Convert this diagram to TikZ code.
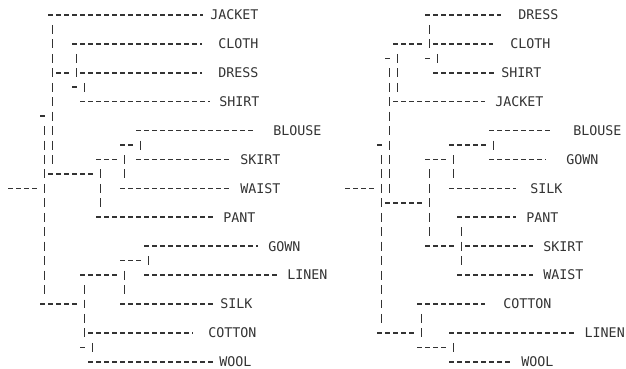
\documentclass[tikz,border=0pt]{standalone}
\usepackage{fontspec}
\setmonofont{DejaVu Sans Mono}
\usetikzlibrary{calc}
\definecolor{plotink}{HTML}{333333}
\tikzset{
  dendh/.style={draw=plotink, line width=1.2pt, dash pattern=on 3.9pt off 2.1pt},
  dendv/.style={draw=plotink, line width=1.2pt, dash pattern=on 6.72pt off 4.1175pt},
  leaflab/.style={anchor=west, inner sep=0pt, text=plotink, font=\fontsize{10}{12}\selectfont\ttfamily},
}

\begin{document}
\begin{tikzpicture}[x=6pt, y=-10.8375pt]
  \useasboundingbox (-1.375,-1.038) rectangle (76.875,24.498);
  \def\rx{42.125}

  % left tree: junctions at (column, row)
  \coordinate (lR) at (4,12);
  \coordinate (lA) at (5,7);
  \coordinate (lB) at (8,4);
  \coordinate (lC) at (9,5);
  \coordinate (lF) at (11,11);
  \coordinate (lG) at (14,10);
  \coordinate (lH) at (16,9);
  \coordinate (lK) at (9,20);
  \coordinate (lM) at (14,18);
  \coordinate (lN) at (17,17);
  \coordinate (lP) at (10,23);
  \coordinate (lS) at (-0.35,12);

  % leaves: name/row/end of dashes/label/text
  \foreach \n/\rw/\e/\lx/\t in {jacket/0/24.0/24.875/JACKET, cloth/2/23.875/25.875/CLOTH,
      dress/4/23.875/25.875/DRESS, shirt/6/24.875/26.0/SHIRT, blouse/8/30.5/32.75/BLOUSE,
      skirt/10/27.5/28.625/SKIRT, waist/12/27.5/28.625/WAIST, pant/14/25.25/26.5/PANT,
      gown/16/30.875/32.125/GOWN, linen/18/33.375/34.5/LINEN, silk/20/25.25/26.125/SILK,
      cotton/22/22.75/24.625/COTTON, wool/24/25.25/26.0/WOOL}{
    \coordinate (le\n) at (\e,\rw);
    \node[leaflab] (lt\n) at (\lx,\rw) {\t};
  }

  \draw[dendh] (lS) -- ($(lR)+(-0.65,0)$);
  \foreach \j/\a/\b in {lR/lA/lK, lA/lejacket/lF, lB/lecloth/lC, lC/ledress/leshirt,
      lF/lG/lepant, lG/lH/lewaist, lH/leblouse/leskirt, lK/lM/lP, lM/lN/lesilk,
      lN/legown/lelinen, lP/lecotton/lewool}
    \draw[dendv] ($(\j |- \a)+(0.2,0.69)$) -- ($(\j |- \b)+(0.2,-0.69)$);
  \foreach \p/\c in {lR/lA, lR/lK, lA/lF, lB/lC, lF/lG, lG/lH, lK/lM, lK/lP, lM/lN}
    \draw[dendh] ($(\p |- \c)+(-0.35,0)$) -- ($(\c)+(-0.65,0)$);
  \draw[dendh] ($(lA |- lB)+(0.65,0)$) -- ($(lB)+(-0.65,0)$);
  \foreach \p/\c in {lA/jacket, lB/cloth, lC/dress, lC/shirt, lH/blouse, lH/skirt, lG/waist,
      lF/pant, lN/gown, lN/linen, lM/silk, lP/cotton, lP/wool}
    \draw[dendh] ($(\p |- le\c)+(-0.35,0)$) -- (le\c);

  % right tree
  \coordinate (rR) at (\rx+4,12);
  \coordinate (rA) at (\rx+5,9);
  \coordinate (rB) at (\rx+6,3);
  \coordinate (rC) at (\rx+10,2);
  \coordinate (rD) at (\rx+11,3);
  \coordinate (rF) at (\rx+10,13);
  \coordinate (rG) at (\rx+13,10);
  \coordinate (rH) at (\rx+18,9);
  \coordinate (rJ) at (\rx+14,16);
  \coordinate (rK) at (\rx+9,22);
  \coordinate (rL) at (\rx+13,23);
  \coordinate (rS) at (\rx-0.35,12);

  \foreach \n/\rw/\e/\lx/\t in {dress/0/19.125/21.25/DRESS, cloth/2/18.125/20.25/CLOTH,
      shirt/4/18.375/19.125/SHIRT, jacket/6/17.125/18.375/JACKET, blouse/8/25.625/28.125/BLOUSE,
      gown/10/24.75/27.25/GOWN, silk/12/21.0/22.75/SILK, pant/14/21.0/22.25/PANT,
      skirt/16/23.125/24.375/SKIRT, waist/18/23.125/24.375/WAIST, cotton/20/17.125/19.375/COTTON,
      linen/22/28.6/29.55/LINEN, wool/24/20.25/21.625/WOOL}{
    \coordinate (re\n) at (\rx+\e,\rw);
    \node[leaflab] (rt\n) at (\rx+\lx,\rw) {\t};
  }

  \draw[dendh] (rS) -- ($(rR)+(-0.65,0)$);
  \foreach \j/\a/\b in {rR/rA/rK, rA/rB/rF, rB/rC/rejacket, rC/redress/rD, rD/recloth/reshirt,
      rF/rG/rJ, rG/rH/resilk, rH/reblouse/regown, rJ/repant/rewaist, rK/recotton/rL,
      rL/relinen/rewool}
    \draw[dendv] ($(\j |- \a)+(0.2,0.69)$) -- ($(\j |- \b)+(0.2,-0.69)$);
  \foreach \p/\c in {rR/rA, rR/rK, rA/rB, rA/rF, rB/rC, rC/rD, rF/rG, rF/rJ, rG/rH, rK/rL}
    \draw[dendh] ($(\p |- \c)+(-0.35,0)$) -- ($(\c)+(-0.65,0)$);
  \draw[dendh] ($(rJ |- reskirt)+(0.65,0)$) -- (reskirt);
  \foreach \p/\c in {rC/dress, rD/cloth, rD/shirt, rB/jacket, rH/blouse, rH/gown, rG/silk,
      rJ/pant, rJ/waist, rK/cotton, rL/linen, rL/wool}
    \draw[dendh] ($(\p |- re\c)+(-0.35,0)$) -- (re\c);
\end{tikzpicture}
\end{document}
